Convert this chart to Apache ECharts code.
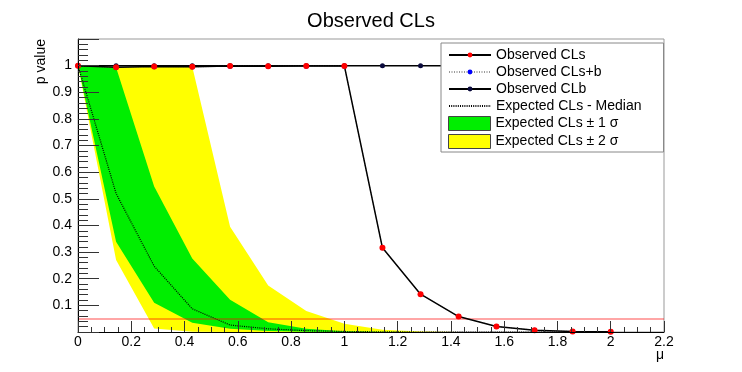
<!DOCTYPE html>
<html>
<head>
<meta charset="utf-8">
<script src="https://cdn.jsdelivr.net/npm/echarts@6/dist/echarts.min.js"></script>
<style>
  html, body { margin: 0; padding: 0; background: #fff; }
  #chart { width: 742px; height: 372px; }
</style>
</head>
<body>
<div id="chart"></div>
<script>
// scan points (mu) and p values
const MU = [0, 0.143, 0.286, 0.429, 0.571, 0.714, 0.857, 1.0, 1.143, 1.286, 1.429, 1.571, 1.714, 1.857, 2.0];
const OBS_CLS = [1.0, 0.994, 0.997, 0.996, 0.999, 0.998, 0.999, 0.999, 0.316, 0.142, 0.058, 0.021, 0.007, 0.002, 0.0005];
const OBS_CLSB = [1.0, 0.993, 0.996, 0.995, 0.998, 0.997, 0.998, 0.998, 0.316, 0.142, 0.058, 0.021, 0.007, 0.002, 0.0005];
const OBS_CLB = [1.0, 1.0, 1.0, 1.0, 1.0, 1.0, 1.0, 1.0, 1.0, 1.0, 1.0, 1.0, 1.0, 1.0, 1.0];
const EXP_MED = [1.0, 0.52, 0.247, 0.087, 0.026, 0.012, 0.005, 0.002, 0.0005, 0, 0, 0, 0, 0, 0];
const EXP_M1 = [1.0, 0.339, 0.11, 0.035, 0.012, 0.004, 0.001, 0, 0, 0, 0, 0, 0, 0, 0];
const EXP_P1 = [1.0, 0.993, 0.546, 0.276, 0.121, 0.037, 0.012, 0.003, 0.001, 0, 0, 0, 0, 0, 0];
const EXP_M2 = [1.0, 0.27, 0.013, 0.001, 0, 0, 0, 0, 0, 0, 0, 0, 0, 0, 0];
const EXP_P2 = [1.0, 0.995, 0.995, 0.996, 0.395, 0.175, 0.079, 0.031, 0.008, 0.002, 0, 0, 0, 0, 0];
const CL_LEVEL = 0.05;

const FONT = "'Liberation Sans', Arial, sans-serif";
const YELLOW = "#ffff00";
const GREEN = "#00ee00";
const pairs = (ys) => MU.map((x, i) => [x, ys[i]]);

// bands are layered: yellow to +2s, green to +1s, yellow to -1s, white to -2s
const band = (name, ys, color) => ({
  name, type: "line", data: pairs(ys), z: 1, silent: true,
  symbol: "none",
  itemStyle: { color },
  lineStyle: { width: 0, color },
  areaStyle: { color, opacity: 1 }
});

document.addEventListener("DOMContentLoaded", () => {
  const chart = echarts.init(document.getElementById("chart"));
  const legendText = { fontSize: 14, color: "#000", fontFamily: FONT };
  chart.setOption({
    animation: false,
    title: {
      text: "Observed CLs", left: "center", top: 6,
      textStyle: { fontSize: 20, fontWeight: "normal", color: "#000", fontFamily: FONT }
    },
    grid: {
      left: 78, right: 78, top: 39, bottom: 40,
      show: true, borderColor: "#999", borderWidth: 1,
      outerBoundsMode: "none"
    },
    legend: [
      {
        orient: "vertical", left: 441, top: 43, z: 20,
        padding: [5, 22, 39, 7], itemGap: 3, itemWidth: 42, itemHeight: 6,
        backgroundColor: "#fff", borderColor: "#888", borderWidth: 1,
        textStyle: legendText, selectedMode: false,
        data: [
          "Observed CLs",
          "Observed CLs+b",
          "Observed CLb",
          { name: "Expected CLs - Median", itemStyle: { color: "rgba(0,0,0,0)", borderWidth: 0 } }
        ]
      },
      {
        orient: "vertical", left: 448, top: 116, z: 21,
        padding: 0, itemGap: 3, itemWidth: 42, itemHeight: 14,
        textStyle: legendText, selectedMode: false,
        data: [
          { name: "Expected CLs \u00b1 1 \u03c3", icon: "rect", itemStyle: { color: GREEN, borderColor: "#444", borderWidth: 1 } },
          { name: "Expected CLs \u00b1 2 \u03c3", icon: "rect", itemStyle: { color: YELLOW, borderColor: "#444", borderWidth: 1 } }
        ]
      }
    ],
    xAxis: {
      type: "value", min: 0, max: 2.2, interval: 0.2, z: 10,
      name: "\u03bc", nameLocation: "end", nameGap: 0, nameMoveOverlap: false,
      nameTextStyle: { fontSize: 14, color: "#000", fontFamily: FONT, align: "right", verticalAlign: "top", padding: [16, 0, 0, 0] },
      axisLine: { show: true, onZero: false, lineStyle: { color: "#000", width: 1 } },
      axisTick: { show: true, inside: true, length: 11, lineStyle: { color: "#333" } },
      minorTick: { show: true, splitNumber: 4, length: 5, lineStyle: { color: "#333" } },
      axisLabel: { fontSize: 14, color: "#000", fontFamily: FONT, margin: 3, showMaxLabel: true, showMinLabel: true },
      splitLine: { show: false }
    },
    yAxis: {
      type: "value", min: 0, max: 1.1, interval: 0.1, z: 10,
      name: "p value", nameLocation: "end", nameRotate: 90, nameGap: 0, nameMoveOverlap: false,
      nameTextStyle: { fontSize: 14, color: "#000", fontFamily: FONT, align: "right", verticalAlign: "bottom", padding: [0, 0, 30, 0] },
      axisLine: { show: true, onZero: false, lineStyle: { color: "#000", width: 1 } },
      axisTick: { show: true, inside: true, length: 21, lineStyle: { color: "#333" } },
      minorTick: { show: true, splitNumber: 5, length: 10, lineStyle: { color: "#333" } },
      axisLabel: {
        fontSize: 14, color: "#000", fontFamily: FONT, margin: 6,
        formatter: (v) => (v < 0.05 || v > 1.05) ? "" : String(+v.toFixed(1))
      },
      splitLine: { show: false }
    },
    series: [
      band("Expected CLs \u00b1 2 \u03c3", EXP_P2, YELLOW),
      band("Expected CLs \u00b1 1 \u03c3", EXP_P1, GREEN),
      band("band -1s", EXP_M1, YELLOW),
      band("band -2s", EXP_M2, "#ffffff"),
      {
        name: "Expected CLs - Median", type: "line", data: pairs(EXP_MED), z: 3,
        symbol: "none",
        itemStyle: { color: "#000" },
        lineStyle: { color: "#000", width: 1.2, type: [1, 1.2] },
        markLine: {
          silent: true, symbol: "none", label: { show: false },
          lineStyle: { color: "rgba(255,0,0,0.35)", width: 2, type: "solid" },
          data: [{ yAxis: CL_LEVEL }]
        }
      },
      {
        name: "Observed CLb", type: "line", data: pairs(OBS_CLB), z: 4,
        symbol: "circle", symbolSize: 5,
        itemStyle: { color: "#0a0a3c" },
        lineStyle: { color: "#000", width: 1.5 }
      },
      {
        name: "Observed CLs+b", type: "line", data: pairs(OBS_CLSB), z: 5,
        symbol: "circle", symbolSize: 5,
        itemStyle: { color: "#0000ff" },
        lineStyle: { color: "#999", width: 1, type: [1, 1.5] }
      },
      {
        name: "Observed CLs", type: "line", data: pairs(OBS_CLS), z: 6,
        symbol: "circle", symbolSize: 6,
        itemStyle: { color: "#ff0000" },
        lineStyle: { color: "#000", width: 1.5 }
      }
    ]
  });
});
</script>
</body>
</html>
